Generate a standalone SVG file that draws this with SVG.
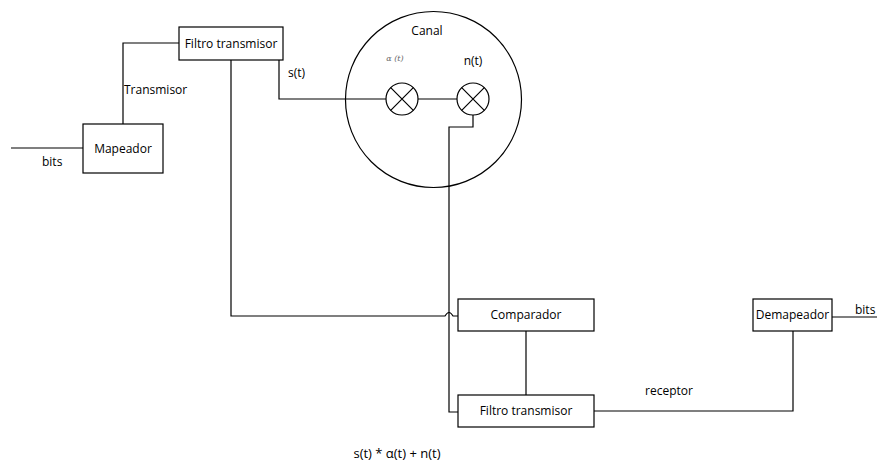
<svg xmlns="http://www.w3.org/2000/svg" width="877" height="461" viewBox="0 0 877 461">
<style>
.box{fill:#fff;stroke:#000;stroke-width:1.2}
.ln{fill:none;stroke:#000;stroke-width:1.2}
text{font-family:"Open Sans","Liberation Sans",sans-serif;font-size:12px;fill:#000}
.c{text-anchor:middle}
</style>
<rect width="877" height="461" fill="#fff"/>
<g id="connectors">
<path class="ln" d="M11 148 H83"/>
<path class="ln" d="M123 124 V43 H179"/>
<path class="ln" d="M279 60 V99 H386"/>
<path class="ln" d="M418 99 H457"/>
<path class="ln" d="M473 115 V127 H449 V412 H458"/>
<path class="ln" d="M231 60 V316 H445 Q449 309 453 316 H458"/>
<path class="ln" d="M526 331 V395"/>
<path class="ln" d="M594 411 H793 V331"/>
<path class="ln" d="M832 317 H877"/>
</g>
<g id="canal">
<circle class="ln" cx="433.5" cy="99.5" r="88"/>
<text class="c" x="427" y="35">Canal</text>
</g>
<g id="alpha">
<text class="c" x="395" y="61" style="font-family:'DejaVu Serif',serif;font-style:italic;font-size:8px;fill:#666">α (t)</text>
</g>
<g id="mult1">
<circle class="ln" cx="402" cy="99" r="16"/>
<path class="ln" d="M390.7 87.7 L413.3 110.3 M413.3 87.7 L390.7 110.3"/>
</g>
<g id="mult2">
<circle class="ln" cx="473" cy="99" r="16"/>
<path class="ln" d="M461.7 87.7 L484.3 110.3 M484.3 87.7 L461.7 110.3"/>
<text class="c" x="473" y="65">n(t)</text>
</g>
<g id="filtro-tx">
<rect class="box" x="179" y="27" width="104" height="33"/>
<text class="c" x="231" y="48">Filtro transmisor</text>
</g>
<g id="mapeador">
<rect class="box" x="83" y="124" width="80" height="49"/>
<text class="c" x="123" y="153">Mapeador</text>
</g>
<g id="comparador">
<rect class="box" x="458" y="299" width="136" height="32"/>
<text class="c" x="526" y="319">Comparador</text>
</g>
<g id="filtro-rx">
<rect class="box" x="458" y="395" width="136" height="32"/>
<text class="c" x="526" y="415">Filtro transmisor</text>
</g>
<g id="demapeador">
<rect class="box" x="753" y="299" width="79" height="32"/>
<text class="c" x="792.5" y="319">Demapeador</text>
</g>
<g id="labels">
<text x="42" y="166">bits</text>
<text x="124" y="94">Transmisor</text>
<text x="288" y="77">s(t)</text>
<text x="645" y="395">receptor</text>
<text x="855" y="314">bits</text>
<text class="c" x="397" y="458" style="font-size:13px">s(t) * α(t) + n(t)</text>
</g>
</svg>
